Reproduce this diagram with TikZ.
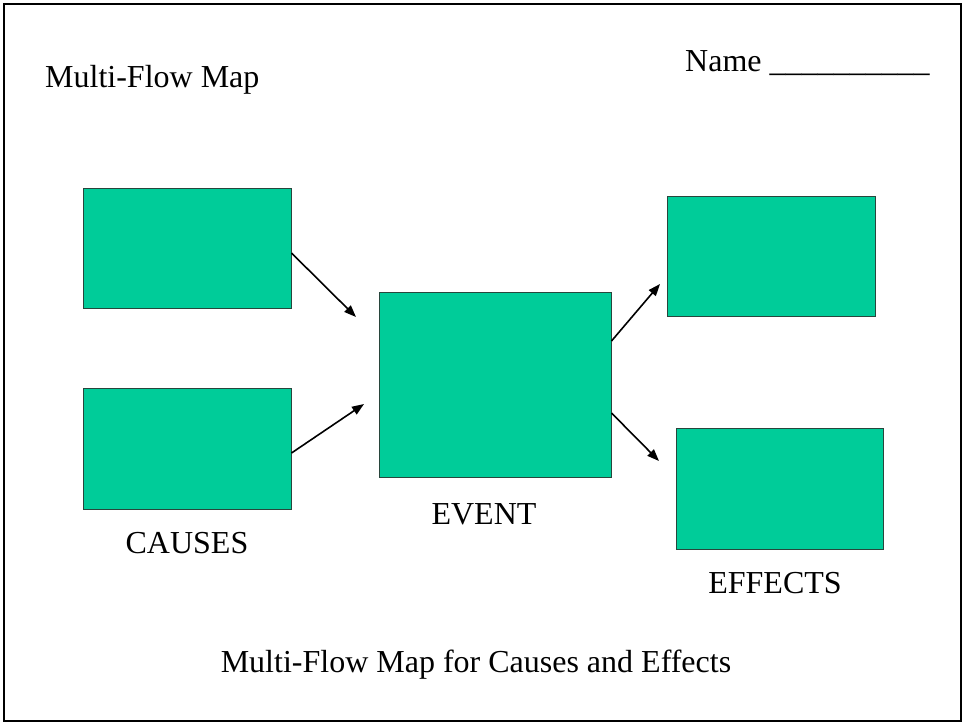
\documentclass[tikz,border=0pt]{standalone}
\usepackage{fontspec}
\setmainfont{Liberation Serif}
\usetikzlibrary{arrows.meta,calc}
\definecolor{boxgreen}{RGB}{0,204,153}
\definecolor{boxedge}{RGB}{40,70,60}
\tikzset{
  greenbox/.style={draw=boxedge, line width=1pt, fill=boxgreen, inner sep=0pt},
  lbl/.style={inner sep=0pt, anchor=base, font=\fontsize{32}{36}\selectfont},
  flowarrow/.style={line width=1.6pt, -{Triangle[length=12pt,width=9pt]}}
}
\begin{document}
\begin{tikzpicture}[x=1pt,y=-1pt]
\useasboundingbox (0,0) rectangle (964,725);
\draw[line width=2pt] (4,4) rectangle (961,721);
% boxes
\node[greenbox, minimum width=208pt, minimum height=120pt] (c1) at (187,248) {};
\node[greenbox, minimum width=208pt, minimum height=121pt] (c2) at (187,448.5) {};
\node[greenbox, minimum width=232pt, minimum height=185pt] (ev) at (495,384.5) {};
\node[greenbox, minimum width=208pt, minimum height=120pt] (f1) at (771,256) {};
\node[greenbox, minimum width=207pt, minimum height=121pt] (f2) at (779.5,488.5) {};
% arrow tips
\coordinate (t1) at (356,317);
\coordinate (t2) at (364,404);
\coordinate (t3) at (660,284);
\coordinate (t4) at (659,461);
\draw[flowarrow] ($(c1.east)+(0,5)$) -- (t1);
\draw[flowarrow] ($(c2.east)+(0,4.5)$) -- (t2);
\draw[flowarrow] ($(ev.east)+(0,-43.5)$) -- (t3);
\draw[flowarrow] ($(ev.east)+(0,28.5)$) -- (t4);
% texts
\node[lbl, anchor=base west] (title) at (45,88) {Multi-Flow Map};
\node[lbl, anchor=base west] (name) at (685,72) {Name \_\_\_\_\_\_\_\_\_\_};
\node[lbl] (causes) at (187,553) {CAUSES};
\node[lbl] (event) at (484,524) {EVENT};
\node[lbl] (effects) at (775,593) {EFFECTS};
\node[lbl] (caption) at (476,672) {Multi-Flow Map for Causes and Effects};
\end{tikzpicture}
\end{document}
